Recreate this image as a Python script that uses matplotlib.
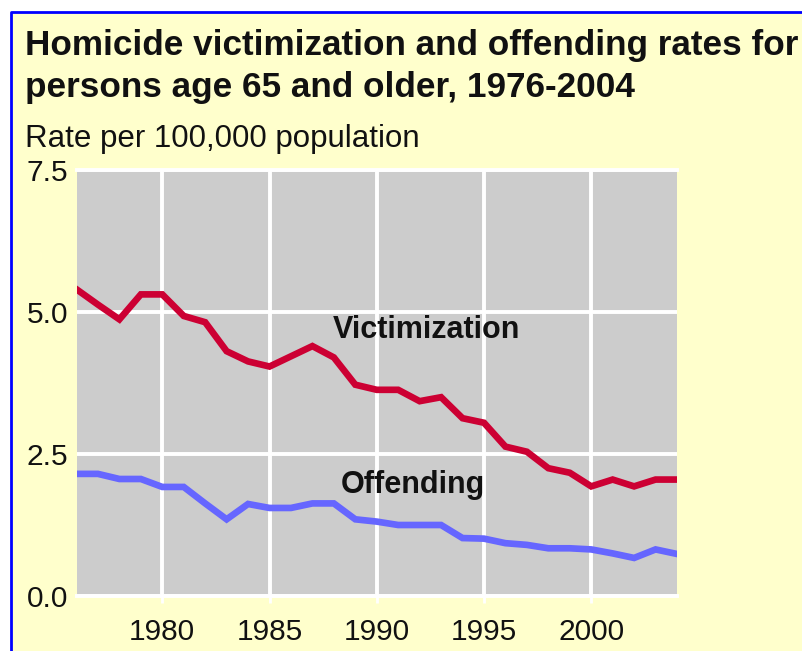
import matplotlib.pyplot as plt
from matplotlib.lines import Line2D
from matplotlib.patches import Rectangle

plt.rcParams['font.family'] = ['Liberation Sans', 'DejaVu Sans']

years = list(range(1976, 2005))
victimization = [5.40, 5.13, 4.87, 5.31, 5.31, 4.93, 4.82, 4.31, 4.13, 4.04,
                 4.22, 4.40, 4.20, 3.72, 3.63, 3.63, 3.43, 3.50, 3.13, 3.05,
                 2.63, 2.54, 2.25, 2.17, 1.93, 2.05, 1.93, 2.05, 2.05]
offending = [2.15, 2.15, 2.06, 2.06, 1.92, 1.92, 1.63, 1.35, 1.62, 1.55,
             1.55, 1.63, 1.63, 1.35, 1.31, 1.25, 1.25, 1.25, 1.02, 1.01,
             0.93, 0.90, 0.84, 0.84, 0.82, 0.75, 0.67, 0.82, 0.74]
x_ticks = [1980, 1985, 1990, 1995, 2000]
y_ticks = [0.0, 2.5, 5.0, 7.5]

W, H = 802, 651
fig = plt.figure(figsize=(W / 100, H / 100), dpi=100, facecolor='white')

# yellow panel with blue border on top and left
fig.patches.append(Rectangle((11 / W, 0), 1, 1 - 12 / H, transform=fig.transFigure,
                             facecolor='#FFFFCC', edgecolor='none', zorder=-5))
fig.lines.append(Line2D([11 / W, 11 / W, 1], [0, 1 - 12 / H, 1 - 12 / H],
                        transform=fig.transFigure, color='#0000FF', lw=2, zorder=-4))

ax = fig.add_axes([76.5 / W, 1 - 596 / H, (677 - 76.5) / W, (596 - 170) / H])
ax.set_zorder(1)
ax.set_facecolor('#CCCCCC')

ax.plot(years, victimization, color='#CC0033', lw=4.8, solid_joinstyle='miter')
ax.plot(years, offending, color='#6666FF', lw=4.8, solid_joinstyle='miter')

ax.set_xlim(1976, 2004)
ax.set_ylim(0, 7.5)
ax.set_xticks(x_ticks)
ax.set_yticks(y_ticks)
ax.set_yticklabels(['%.1f' % v for v in y_ticks])
ax.grid(True, color='white', lw=2.8)
ax.set_axisbelow(True)

for s in ['left', 'right']:
    ax.spines[s].set_visible(False)
for s in ['top', 'bottom']:
    ax.spines[s].set_color('white')
    ax.spines[s].set_linewidth(2.8)

ax.tick_params(axis='x', length=5, width=2, color='white', pad=11,
               labelsize=21.5, labelcolor='#111111')
ax.tick_params(axis='y', length=0, pad=6, labelsize=21.5, labelcolor='#111111')

ax.text(1992.3, 4.55, 'Victimization', ha='center', va='baseline',
        fontsize=22, fontweight='bold', color='#111111')
ax.text(1991.7, 1.82, 'Offending', ha='center', va='baseline',
        fontsize=22, fontweight='bold', color='#111111')

fig.text(25 / W, 1 - 55 / H, 'Homicide victimization and offending rates for',
         fontsize=25.3, fontweight='bold', ha='left', va='baseline', color='#111111')
fig.text(25 / W, 1 - 97 / H, 'persons age 65 and older, 1976-2004',
         fontsize=25.3, fontweight='bold', ha='left', va='baseline', color='#111111')
fig.text(25 / W, 1 - 147 / H, 'Rate per 100,000 population',
         fontsize=22.5, ha='left', va='baseline', color='#111111')

fig.savefig('out.png', dpi=100, facecolor=fig.get_facecolor())
